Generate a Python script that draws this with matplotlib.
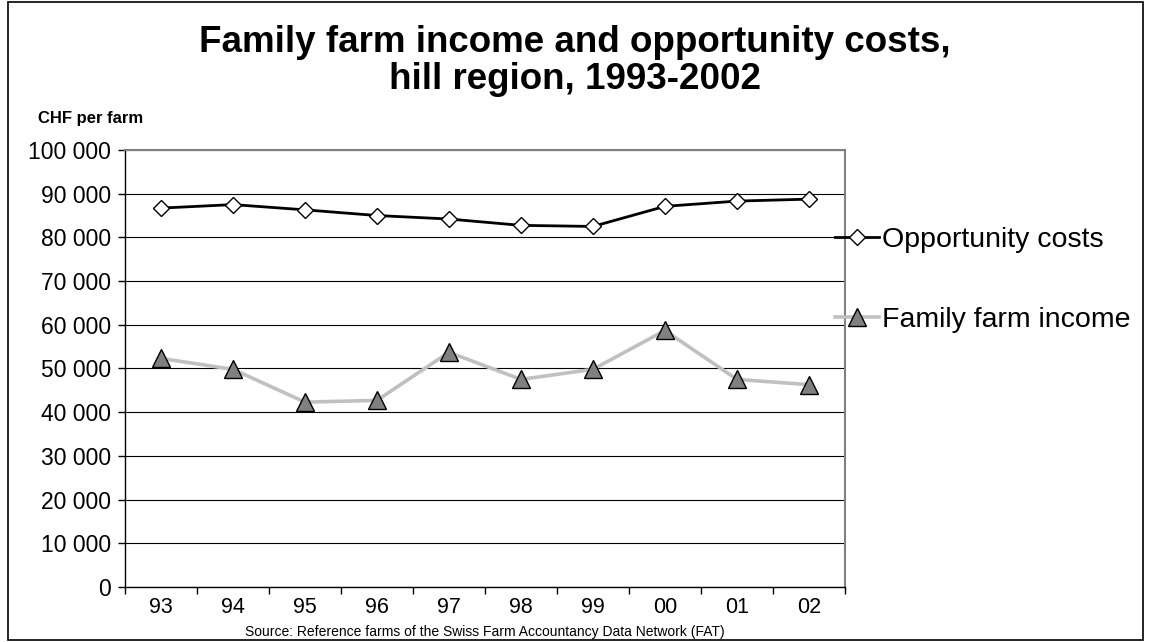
import matplotlib.pyplot as plt
from matplotlib.patches import Rectangle
from matplotlib.ticker import FuncFormatter
import numpy as np

plt.rcParams['font.family'] = ['Liberation Sans', 'DejaVu Sans']

# === Data ===
years = ['93', '94', '95', '96', '97', '98', '99', '00', '01', '02']
opportunity_costs = [86700, 87500, 86300, 85000, 84200, 82750, 82500, 87100, 88300, 88750]
family_income = [52300, 49800, 42300, 42700, 53700, 47500, 49800, 58700, 47500, 46300]

# === Figure ===
fig = plt.figure(figsize=(11.5, 6.42), dpi=100)
ax = fig.add_axes([0.1087, 0.0857, 0.626, 0.6807])

x = np.arange(len(years))
ax.plot(x, opportunity_costs, color='black', lw=2.0, marker='D', markersize=8.5,
        markerfacecolor='white', markeredgecolor='black', markeredgewidth=1.0,
        label='Opportunity costs', zorder=4)
ax.plot(x, family_income, color='#c0c0c0', lw=2.6, marker='^', markersize=12.5,
        markerfacecolor='#808080', markeredgecolor='black', markeredgewidth=1.0,
        label='Family farm income', zorder=3)

ax.set_xlim(-0.5, len(years) - 0.5)
ax.set_ylim(0, 100000)
ax.set_yticks(np.arange(0, 100001, 10000))
ax.yaxis.set_major_formatter(FuncFormatter(lambda v, p: f'{int(v):,}'.replace(',', ' ')))
ax.grid(axis='y', color='black', lw=0.8)
ax.set_axisbelow(True)

# x labels at centres, tick marks between categories
ax.set_xticks(x)
ax.set_xticklabels(years)
ax.set_xticks(np.arange(-0.5, len(years)), minor=True)
ax.tick_params(axis='x', which='major', length=0, labelsize=15.5, pad=7)
ax.tick_params(axis='x', which='minor', length=5, width=1, direction='out')
ax.tick_params(axis='y', length=5, width=1, direction='out', labelsize=16.5, pad=5)

for s in ['top', 'right']:
    ax.spines[s].set_color('#808080')
    ax.spines[s].set_linewidth(1.5)
for s in ['left', 'bottom']:
    ax.spines[s].set_color('black')
    ax.spines[s].set_linewidth(1.0)

# Titles and notes
fig.text(0.5, 0.905, 'Family farm income and opportunity costs,\nhill region, 1993-2002',
         ha='center', va='center', fontsize=26.5, fontweight='bold', linespacing=1.05)
fig.text(0.033, 0.816, 'CHF per farm', fontsize=12, fontweight='bold', va='center')
fig.text(0.4217, 0.015, 'Source: Reference farms of the Swiss Farm Accountancy Data Network (FAT)',
         ha='center', va='center', fontsize=10)

# Legend
fig.legend(loc='center left', bbox_to_anchor=(0.726, 0.564), frameon=False,
           fontsize=20.5, handlelength=1.55, handletextpad=0.12, labelspacing=1.9,
           borderpad=0, borderaxespad=0)

# Outer frame
fig.add_artist(Rectangle((0.007, 0.003), 0.987, 0.994, fill=False, edgecolor='black',
                         lw=1.2, transform=fig.transFigure))

fig.savefig('out.png', dpi=100)
